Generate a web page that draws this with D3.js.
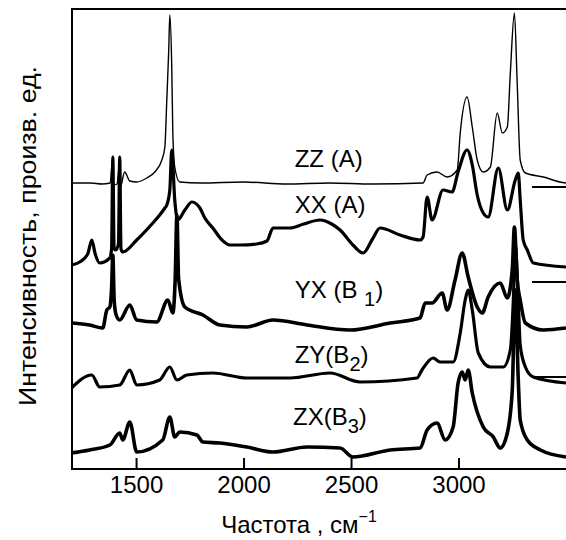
<!DOCTYPE html>
<html>
<head>
<meta charset="utf-8">
<script src="https://cdn.jsdelivr.net/npm/d3@7"></script>
<style>
  body { margin: 0; background: #fff; }
  text { font-family: "Liberation Sans", Arial, sans-serif; fill: #000; }
</style>
</head>
<body>
<svg id="chart" width="566" height="540"></svg>
<script>
// Raman spectra, [wavenumber cm-1, intensity a.u.]
var zz = [[1200,28.6],[1290,28.6],[1340,28.5],[1380,28.6],[1388,30.4],[1394,28.4],[1412,28.5],[1420,30.0],[1427,28.2],[1447,29.7],[1471,28.8],[1503,28.7],[1550,29.1],[1587,29.7],[1620,30.9],[1634,32.2],[1643,36.9],[1652,41.9],[1657,45.4],[1666,40.2],[1671,33.6],[1680,30.2],[1703,28.7],[1800,28.6],[2000,28.7],[2200,28.5],[2400,28.6],[2600,28.5],[2835,28.6],[2854,29.4],[2900,29.7],[2947,29.2],[2994,29.9],[3008,33.6],[3040,37.2],[3064,34.2],[3087,30.9],[3115,29.7],[3148,30.2],[3180,35.6],[3204,33.6],[3227,34.2],[3241,39.6],[3260,45.6],[3273,38.6],[3287,30.9],[3311,29.6],[3395,29.2],[3473,28.7],[3500,28.6]];
var xx = [[1200,20.4],[1238,20.7],[1275,21.5],[1294,22.9],[1310,21.5],[1331,20.6],[1378,21.1],[1386,22],[1392,31.2],[1398,22],[1406,21.9],[1418,22.5],[1424,31.2],[1430,22],[1438,21.7],[1503,22.9],[1578,24.6],[1610,25.4],[1634,26.1],[1643,26.4],[1657,27.9],[1666,31.9],[1680,26.9],[1694,24.9],[1727,25.9],[1760,26.7],[1797,26.1],[1820,25.1],[1857,24.1],[1900,22.9],[1936,22.4],[1983,22.4],[2060,22.5],[2109,22.8],[2137,24.1],[2216,24.1],[2280,24.5],[2356,24.9],[2410,24.5],[2449,23.9],[2509,22.4],[2556,21.6],[2600,23.0],[2635,24.1],[2728,23.4],[2821,22.9],[2835,23.2],[2854,27.2],[2877,24.9],[2928,27.9],[2970,27.7],[2998,29.7],[3040,31.9],[3064,30.4],[3087,27.4],[3115,25.6],[3138,25.2],[3185,30.1],[3227,25.9],[3264,28.9],[3278,29.6],[3287,26.9],[3301,22.9],[3320,21.9],[3348,20.6],[3500,20.2]];
var yx = [[1200,14.6],[1284,14.4],[1345,14.1],[1364,15.9],[1378,16.2],[1386,18],[1392,21.4],[1398,17],[1406,15.5],[1424,14.9],[1471,16.4],[1503,14.9],[1596,14.7],[1648,16.9],[1671,15.6],[1682,19],[1690,25.4],[1698,19],[1727,16.2],[1811,15.4],[1890,14.4],[2015,14.2],[2137,14.9],[2295,14.4],[2495,13.9],[2682,14.6],[2821,15.1],[2845,16.6],[2877,16.6],[2924,17.6],[2947,15.9],[2984,18.9],[3017,21.6],[3045,19.2],[3087,16.2],[3110,15.6],[3138,17.2],[3194,18.6],[3227,17.1],[3250,19.9],[3260,24.2],[3273,18.9],[3287,16.9],[3311,14.6],[3395,13.9],[3500,14.1]];
var zy = [[1200,8.1],[1294,9.4],[1331,8.2],[1424,8.4],[1471,9.9],[1503,8.4],[1610,8.9],[1657,10.2],[1690,8.9],[1736,9.4],[1857,9.6],[2015,9.1],[2216,9.1],[2402,9.6],[2542,8.7],[2807,9.1],[2830,9.9],[2882,11.1],[2914,10.7],[2975,10.7],[3008,13.6],[3031,16.9],[3045,17.9],[3064,15.9],[3092,11.6],[3148,10.2],[3208,10.2],[3241,11.9],[3255,16.9],[3264,22.4],[3278,16.9],[3287,12.4],[3311,10.2],[3348,9.2],[3500,8.6]];
var zx = [[1200,1.6],[1284,1.9],[1378,2.4],[1424,3.6],[1438,2.9],[1471,4.7],[1503,1.7],[1624,2.9],[1657,5.2],[1680,3.2],[1703,3.7],[1783,3.4],[1811,2.7],[1890,2.6],[2015,2.2],[2137,1.7],[2295,2.2],[2449,2.1],[2509,1.2],[2682,1.9],[2821,2.1],[2854,3.9],[2900,4.6],[2938,2.9],[2975,4.2],[2998,8.6],[3017,9.7],[3031,8.9],[3045,9.9],[3064,7.6],[3115,4.2],[3162,3.2],[3194,2.1],[3227,3.6],[3250,7.9],[3264,17.9],[3278,8.9],[3287,4.9],[3320,2.9],[3381,1.9],[3500,1.2]];

// baseline markers at the right edge (intensity levels)
var baselines = [28.2, 18.7, 9.2];
var xTicks = [1500, 2000, 2500, 3000];

var svg = d3.select("#chart");
var padL = 72, padR = 566, padT = 9, padB = 469;

var xScale = d3.scaleLinear().domain([1202, 3500]).range([padL, padR]);
var yScale = d3.scaleLinear().domain([0, 46]).range([padB, padT]);

svg.append("clipPath").attr("id", "clip")
    .append("rect").attr("x", padL).attr("y", padT)
    .attr("width", padR - padL).attr("height", padB - padT);

var line = d3.line()
    .curve(d3.curveMonotoneX)
    .x(d => xScale(d[0]))
    .y(d => yScale(d[1]));

var series = [
    { data: zz, w: 1.4 },
    { data: xx, w: 3.2 },
    { data: yx, w: 3.6 },
    { data: zy, w: 3.2 },
    { data: zx, w: 3.6 }
];

var plot = svg.append("g").attr("clip-path", "url(#clip)");

plot.selectAll(".spec")
    .data(series)
    .enter().append("path")
    .attr("class", "spec")
    .attr("d", d => line(d.data))
    .style("fill", "none")
    .style("stroke", "#000")
    .style("stroke-width", d => d.w)
    .style("stroke-linejoin", "round");

// short baseline marks on the right
plot.selectAll(".base")
    .data(baselines)
    .enter().append("line")
    .attr("x1", xScale(3342)).attr("x2", padR)
    .attr("y1", d => yScale(d)).attr("y2", d => yScale(d))
    .style("stroke", "#000").style("stroke-width", 2);

// frame
svg.append("path")
    .attr("d", `M${padR},${padT}H${padL}V${padB}H${padR}`)
    .style("fill", "none").style("stroke", "#000").style("stroke-width", 2);

// x axis: inward ticks, labels below
var xAxis = svg.append("g")
    .attr("transform", `translate(0,${padB})`)
    .call(d3.axisBottom(xScale).tickValues(xTicks).tickFormat(d3.format("d"))
        .tickSizeInner(-11).tickSizeOuter(0));
xAxis.select(".domain").remove();
xAxis.selectAll(".tick line").style("stroke", "#000").style("stroke-width", 2);
xAxis.selectAll(".tick text")
    .attr("y", 7)
    .style("font-size", "24px")
    .attr("font-family", "Liberation Sans, Arial, sans-serif");

// spectrum labels
var labels = [
    { x: 2238, y: 30.2, parts: [["ZZ (A)", 0]] },
    { x: 2238, y: 25.6, parts: [["XX (A)", 0]] },
    { x: 2238, y: 17.1, parts: [["YX (B ", 0], ["1", 1], [")", 0]] },
    { x: 2238, y: 10.6, parts: [["ZY(B", 0], ["2", 1], [")", 0]] },
    { x: 2230, y: 4.4, parts: [["ZX(B", 0], ["3", 1], [")", 0]] }
];

labels.forEach(function(l) {
    var t = svg.append("text")
        .attr("x", xScale(l.x))
        .attr("y", yScale(l.y))
        .style("font-size", "24px");
    l.parts.forEach(function(p, i) {
        var s = t.append("tspan").text(p[0]);
        if (p[1]) s.attr("dy", 8).style("font-size", "20px");
        else if (i > 0) s.attr("dy", -8);
    });
});

// axis titles
var xt = svg.append("text")
    .attr("x", 299).attr("y", 533)
    .attr("text-anchor", "middle")
    .style("font-size", "24px");
xt.append("tspan").text("Частота , см");
xt.append("tspan").text("−1").attr("dy", -11).style("font-size", "16px");

svg.append("text")
    .attr("transform", "translate(36,236) rotate(-90)")
    .attr("text-anchor", "middle")
    .attr("textLength", 340)
    .attr("lengthAdjust", "spacingAndGlyphs")
    .style("font-size", "24px")
    .text("Интенсивность, произв. ед.");
</script>
</body>
</html>
